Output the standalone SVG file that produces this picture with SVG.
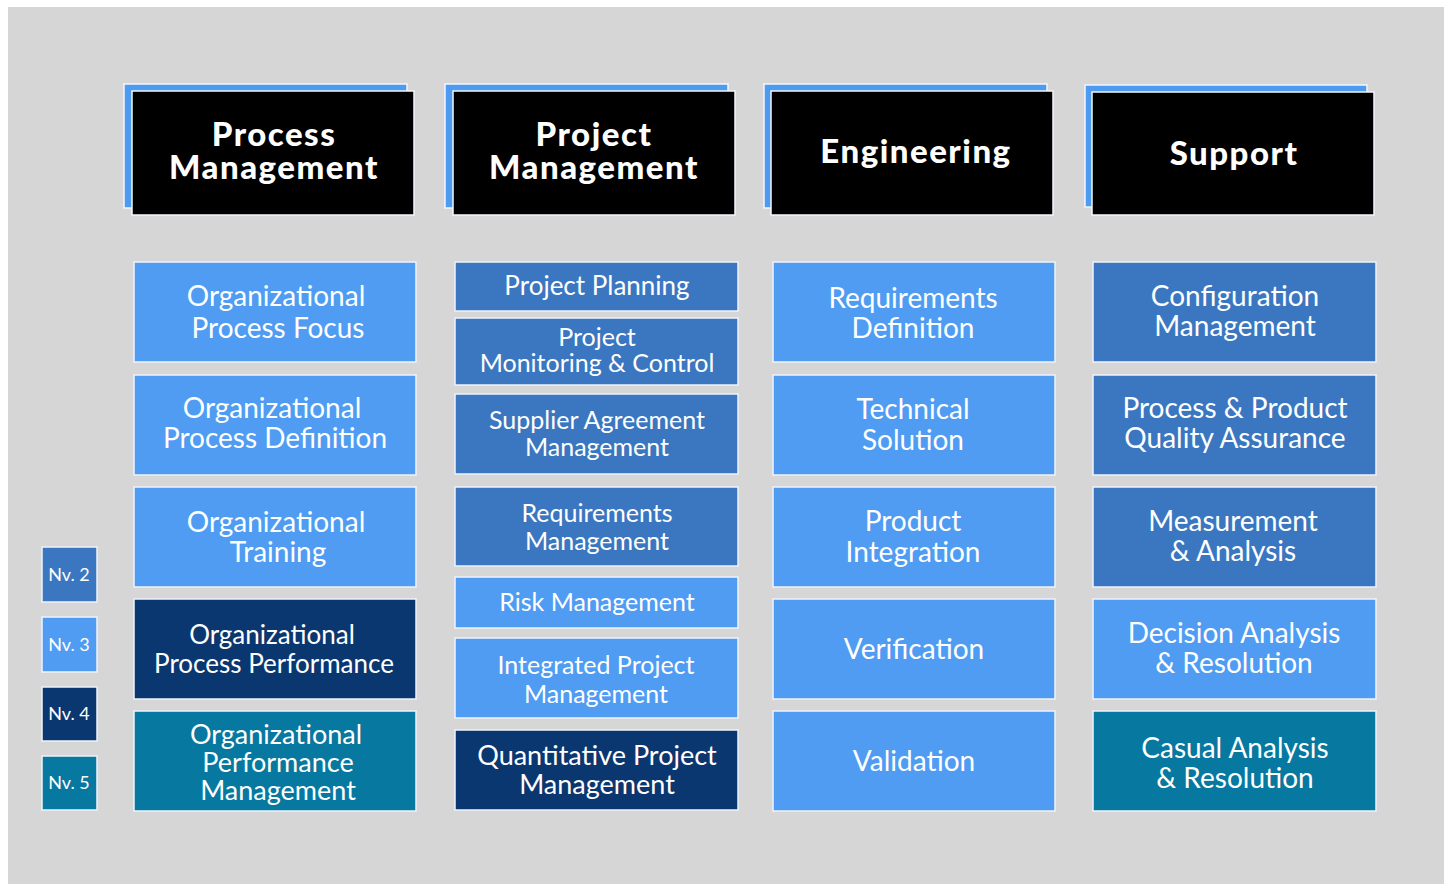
<svg xmlns="http://www.w3.org/2000/svg" width="1444" height="884" viewBox="0 0 1444 884">
<style>
.bg{fill:#d6d6d6}
.hb{fill:#4d9bf0;stroke:#f2f6fb;stroke-width:1.5}
.hk{fill:#000;stroke:#f2f6fb;stroke-width:1.5}
.ht{font-family:Lato,"Liberation Sans",sans-serif;font-weight:900;font-size:33px;letter-spacing:1.5px;fill:#fff;text-anchor:middle}
.box{stroke:#eef4fb;stroke-width:1.5}
.n2{fill:#3b77c0}
.n3{fill:#4f9cf2}
.n4{fill:#0b3770}
.n5{fill:#07789f}
.t{font-family:Lato,"Liberation Sans",sans-serif;font-weight:400;fill:#fff;text-anchor:middle}
.s28{font-size:28px}
.s27{font-size:27px}
.s26{font-size:26px}
.s25{font-size:25px}
.s17{font-size:18px}
</style>
<rect x="0" y="0" width="1444" height="884" fill="#fff"/>
<rect class="bg" x="8" y="7" width="1436" height="877"/>

<g id="hdr-process">
<rect class="hb" x="124" y="84" width="283" height="124"/>
<rect class="hk" x="132" y="91" width="282" height="124"/>
<text class="ht" x="274" y="146">Process</text>
<text class="ht" x="274" y="179">Management</text>
</g>
<g id="hdr-project">
<rect class="hb" x="445" y="84" width="283" height="124"/>
<rect class="hk" x="453" y="91" width="282" height="124"/>
<text class="ht" x="594" y="146">Project</text>
<text class="ht" x="594" y="179">Management</text>
</g>
<g id="hdr-engineering">
<rect class="hb" x="764" y="84" width="283" height="124"/>
<rect class="hk" x="771" y="91" width="282" height="124"/>
<text class="ht" x="916" y="163">Engineering</text>
</g>
<g id="hdr-support">
<rect class="hb" x="1085" y="85" width="282" height="122"/>
<rect class="hk" x="1092" y="92" width="282" height="123"/>
<text class="ht" x="1234" y="165">Support</text>
</g>

<g id="opf"><rect class="box n3" x="134" y="262" width="282" height="100"/>
<text class="t s28" x="276" y="306">Organizational</text><text class="t s28" x="278" y="338">Process Focus</text></g>
<g id="opd"><rect class="box n3" x="134" y="375" width="282" height="100"/>
<text class="t s28" x="272" y="418">Organizational</text><text class="t s28" x="275" y="448">Process Definition</text></g>
<g id="ot"><rect class="box n3" x="134" y="487" width="282" height="100"/>
<text class="t s28" x="276" y="532">Organizational</text><text class="t s28" x="278" y="562">Training</text></g>
<g id="opp"><rect class="box n4" x="134" y="599" width="282" height="100"/>
<text class="t s26" x="272" y="644">Organizational</text><text class="t s26" x="274" y="673">Process Performance</text></g>
<g id="opm"><rect class="box n5" x="134" y="711" width="282" height="100"/>
<text class="t s27" x="276" y="744">Organizational</text><text class="t s27" x="278" y="772">Performance</text><text class="t s27" x="278" y="800">Management</text></g>

<g id="pp"><rect class="box n2" x="455" y="262" width="283" height="49"/>
<text class="t s26" x="597" y="295">Project Planning</text></g>
<g id="pmc"><rect class="box n2" x="455" y="318" width="283" height="67"/>
<text class="t s25" x="597" y="346">Project</text><text class="t s25" x="597" y="372">Monitoring &amp; Control</text></g>
<g id="sam"><rect class="box n2" x="455" y="394" width="283" height="80"/>
<text class="t s25" x="597" y="429">Supplier Agreement</text><text class="t s25" x="597" y="456">Management</text></g>
<g id="reqm"><rect class="box n2" x="455" y="487" width="283" height="79"/>
<text class="t s25" x="597" y="522">Requirements</text><text class="t s25" x="597" y="550">Management</text></g>
<g id="rskm"><rect class="box n3" x="455" y="577" width="283" height="51"/>
<text class="t s25" x="597" y="611">Risk Management</text></g>
<g id="ipm"><rect class="box n3" x="455" y="638" width="283" height="80"/>
<text class="t s25" x="596" y="674">Integrated Project</text><text class="t s25" x="596" y="703">Management</text></g>
<g id="qpm"><rect class="box n4" x="455" y="730" width="283" height="80"/>
<text class="t s27" x="597" y="765">Quantitative Project</text><text class="t s27" x="597" y="794">Management</text></g>

<g id="rd"><rect class="box n3" x="773" y="262" width="282" height="100"/>
<text class="t s28" x="913" y="308">Requirements</text><text class="t s28" x="913" y="338">Definition</text></g>
<g id="ts"><rect class="box n3" x="773" y="375" width="282" height="100"/>
<text class="t s28" x="913" y="419">Technical</text><text class="t s28" x="913" y="450">Solution</text></g>
<g id="pi"><rect class="box n3" x="773" y="487" width="282" height="100"/>
<text class="t s28" x="913" y="531">Product</text><text class="t s28" x="913" y="562">Integration</text></g>
<g id="ver"><rect class="box n3" x="773" y="599" width="282" height="100"/>
<text class="t s28" x="914" y="659">Verification</text></g>
<g id="val"><rect class="box n3" x="773" y="711" width="282" height="100"/>
<text class="t s28" x="914" y="771">Validation</text></g>

<g id="cm"><rect class="box n2" x="1093" y="262" width="283" height="100"/>
<text class="t s28" x="1235" y="306">Configuration</text><text class="t s28" x="1235" y="336">Management</text></g>
<g id="ppqa"><rect class="box n2" x="1093" y="375" width="283" height="100"/>
<text class="t s28" x="1235" y="418">Process &amp; Product</text><text class="t s28" x="1235" y="448">Quality Assurance</text></g>
<g id="ma"><rect class="box n2" x="1093" y="487" width="283" height="100"/>
<text class="t s28" x="1233" y="531">Measurement</text><text class="t s28" x="1233" y="561">&amp; Analysis</text></g>
<g id="dar"><rect class="box n3" x="1093" y="599" width="283" height="100"/>
<text class="t s28" x="1234" y="643">Decision Analysis</text><text class="t s28" x="1234" y="673">&amp; Resolution</text></g>
<g id="car"><rect class="box n5" x="1093" y="711" width="283" height="100"/>
<text class="t s28" x="1235" y="758">Casual Analysis</text><text class="t s28" x="1235" y="788">&amp; Resolution</text></g>

<g id="legend-nv2"><rect class="box n2" x="42" y="547" width="55" height="55"/><text class="t s17" x="69" y="581">Nv. 2</text></g>
<g id="legend-nv3"><rect class="box n3" x="42" y="617" width="55" height="55"/><text class="t s17" x="69" y="651">Nv. 3</text></g>
<g id="legend-nv4"><rect class="box n4" x="42" y="687" width="55" height="54"/><text class="t s17" x="69" y="720">Nv. 4</text></g>
<g id="legend-nv5"><rect class="box n5" x="42" y="756" width="55" height="54"/><text class="t s17" x="69" y="789">Nv. 5</text></g>

<g id="connectors"></g>
</svg>
